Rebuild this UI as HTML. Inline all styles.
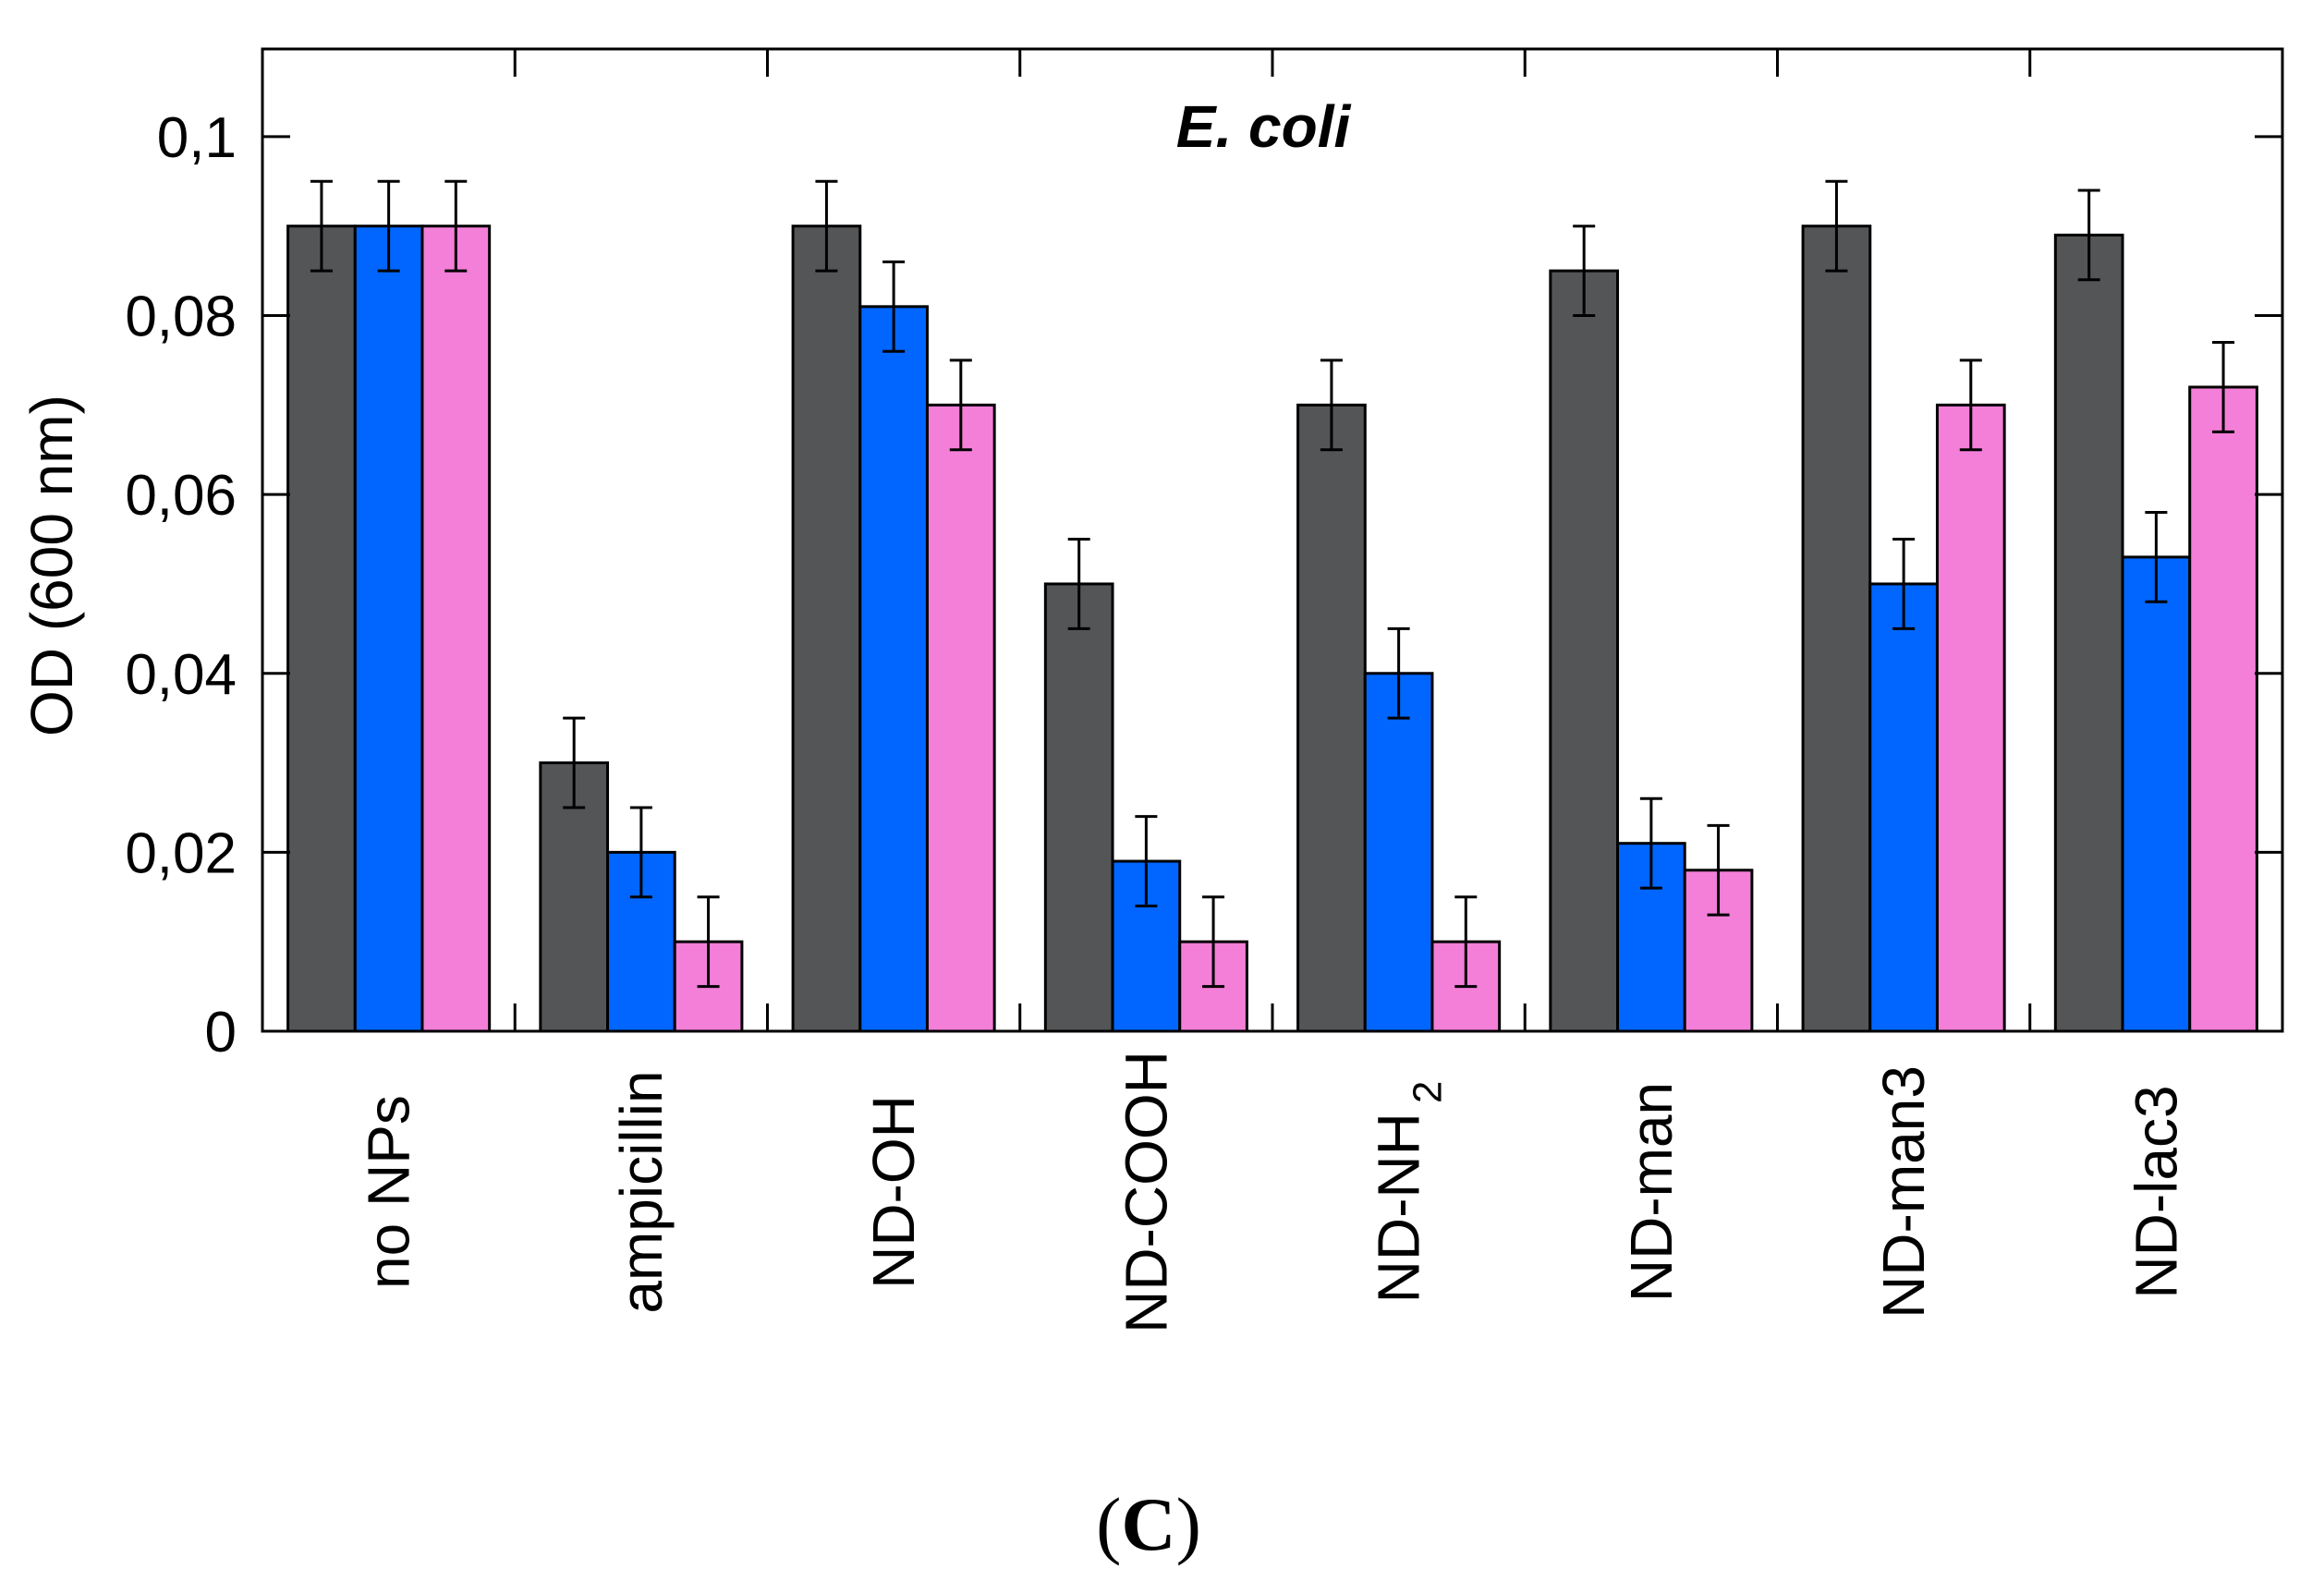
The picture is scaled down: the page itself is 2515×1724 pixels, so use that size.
<!DOCTYPE html>
<html><head><meta charset="utf-8"><style>
html,body{margin:0;padding:0;background:#fff;}
svg{display:block;}
text{font-family:"Liberation Sans",Arial,sans-serif;fill:#000;}
</style></head><body>
<svg id="chart" width="2515" height="1724" viewBox="0 0 2515 1724" xmlns="http://www.w3.org/2000/svg">
<g id="plot"></g>
<text x="1367" y="159" font-size="64" font-weight="bold" font-style="italic" text-anchor="middle">E. coli</text>
<text transform="translate(78,612) rotate(-90)" font-size="64" text-anchor="middle">OD (600 nm)</text>
<text x="1243" y="1677" font-size="82" text-anchor="middle" style="font-family:'Liberation Serif',serif">(<tspan font-weight="bold">C</tspan>)</text>
</svg>
<script>
const categories = ["no NPs","ampicillin","ND-OH","ND-COOH","ND-NH2","ND-man","ND-man3","ND-lac3"];
const seriesA = [0.09,0.03,0.09,0.05,0.07,0.085,0.09,0.089];
const seriesB = [0.09,0.02,0.081,0.019,0.04,0.021,0.05,0.053];
const seriesC = [0.09,0.01,0.07,0.01,0.01,0.018,0.07,0.072];
const errA = [0.005,0.005,0.005,0.005,0.005,0.005,0.005,0.005];
const errB = [0.005,0.005,0.005,0.005,0.005,0.005,0.005,0.005];
const errC = [0.005,0.005,0.005,0.005,0.005,0.005,0.005,0.005];
const yTicks = [0,0.02,0.04,0.06,0.08,0.1];
const yTickLabels = ["0","0,02","0,04","0,06","0,08","0,1"];

const NS="http://www.w3.org/2000/svg";
const L=284,R=2470,T=53,B=1116;
const yMax=0.1098;
function y(v){return B-(v/yMax)*(B-T);}
const band=(R-L)/categories.length;
function xBand(i){return L+i*band;}
const barW=band*0.266;
const g=document.getElementById('plot');
function mk(tag,attrs){const e=document.createElementNS(NS,tag);for(const k in attrs)e.setAttribute(k,attrs[k]);g.appendChild(e);return e;}

const series=[{v:seriesA,e:errA,c:"#545557",n:"series-a"},{v:seriesB,e:errB,c:"#0066ff",n:"series-b"},{v:seriesC,e:errC,c:"#f37fd8",n:"series-c"}];
categories.forEach((cat,i)=>{
  const x0=xBand(i)+(band-3*barW)/2;
  series.forEach((s,k)=>{
    const bx=x0+k*barW, val=s.v[i];
    const r=mk('rect',{x:bx,y:y(val),width:barW,height:B-y(val),fill:s.c,stroke:"#000","stroke-width":3});
    
    
    const cx=bx+barW/2, e=s.e[i];
    const p=mk('path',{d:`M${cx},${y(val+e)}V${y(val-e)}M${cx-12},${y(val+e)}h24M${cx-12},${y(val-e)}h24`,stroke:"#000","stroke-width":3,fill:"none"});
    
    
  });
  const cxg=xBand(i)+band/2+22;
  const t=mk('text',{transform:`translate(${cxg},1290) rotate(-90)`,"font-size":64,"text-anchor":"middle"});
  
  
  if(cat==="ND-NH2"){t.innerHTML='ND-NH<tspan font-size="44" dx="10" dy="24">2</tspan>';}else{t.textContent=cat;}
});
for(let i=1;i<categories.length;i++){
  const xx=xBand(i);
  const tk=mk('path',{d:`M${xx},${T}v30M${xx},${B}v-30`,stroke:"#000","stroke-width":3});
  
  
}
yTicks.forEach((v,i)=>{
  const yy=y(v);
  const tk=mk('path',{d:`M${L},${yy}h30M${R},${yy}h-30`,stroke:"#000","stroke-width":3});
  
  
  const t=mk('text',{x:256,y:yy+22,"font-size":62,"text-anchor":"end"});
  
  
  t.textContent=yTickLabels[i];
});
const fr=mk('rect',{x:L,y:T,width:R-L,height:B-T,fill:"none",stroke:"#000","stroke-width":3});


</script>
</body></html>
